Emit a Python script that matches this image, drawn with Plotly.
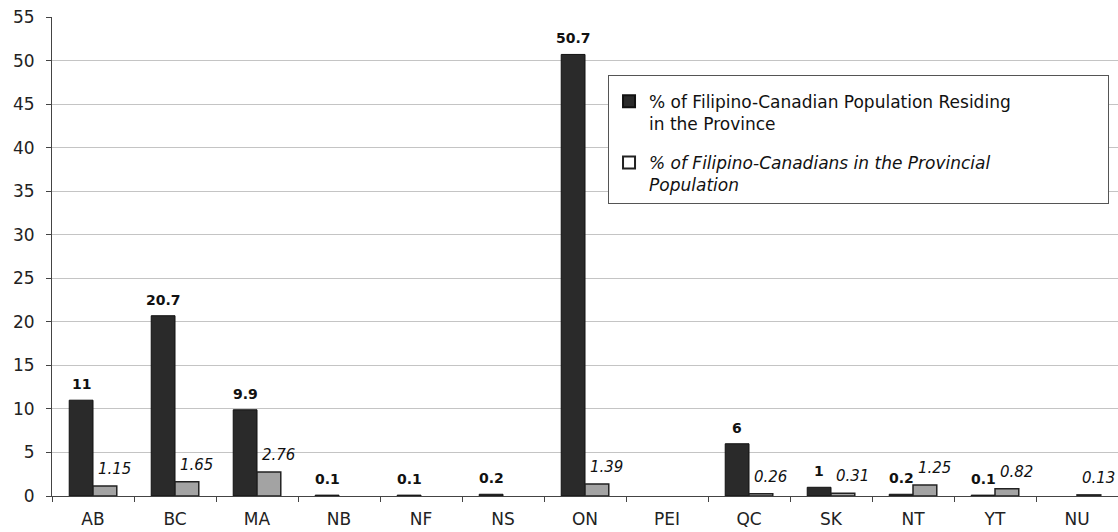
import plotly.graph_objects as go

categories = ["AB", "BC", "MA", "NB", "NF", "NS", "ON", "PEI", "QC", "SK", "NT", "YT", "NU"]
residing_pct = [11, 20.7, 9.9, 0.1, 0.1, 0.2, 50.7, None, 6, 1, 0.2, 0.1, None]
provincial_pct = [1.15, 1.65, 2.76, None, None, None, 1.39, None, 0.26, 0.31, 1.25, 0.82, 0.13]
y_ticks = list(range(0, 56, 5))

PAD = "&nbsp;" * 17  # widen the legend box like the original
name1 = "% of Filipino-Canadian Population Residing" + PAD + "<br>in the Province"
name2 = "<i>% of Filipino-Canadians in the Provincial<br>Population</i>"

FONT = "DejaVu Sans"

fig = go.Figure()
fig.add_trace(go.Bar(
    x=categories, y=residing_pct, name=name1, legendgroup="g1",
    marker=dict(color="#2a2a2a", line=dict(color="#111111", width=1)),
    showlegend=True, legendrank=1,
))
fig.add_trace(go.Bar(
    x=categories, y=provincial_pct, name=name2, legendgroup="g2",
    marker=dict(color="#a3a3a3", line=dict(color="#222222", width=1.5)),
    showlegend=False,
))
# legend proxy (hollow square as in the original legend)
fig.add_trace(go.Scatter(
    x=[None], y=[None], mode="markers", name=name2, legendgroup="g2",
    marker=dict(symbol="square", size=11, color="white", line=dict(color="#222222", width=1.5)),
    showlegend=True, legendrank=2,
))

# value labels
for c, v in zip(categories, residing_pct):
    if v is None:
        continue
    fig.add_annotation(x=c, y=v, xref="x", yref="y", text=f"{v:g}", showarrow=False,
                       xanchor="center", yanchor="bottom", xshift=-12, yshift=6,
                       font=dict(family=FONT, size=14, color="#111111", weight="bold"))
for c, v in zip(categories, provincial_pct):
    if v is None:
        continue
    fig.add_annotation(x=c, y=v, xref="x", yref="y", text=f"<i>{v:g}</i>", showarrow=False,
                       xanchor="center", yanchor="bottom", xshift=21, yshift=6,
                       font=dict(family=FONT, size=15, color="#111111"))

fig.update_layout(
    width=1118, height=532,
    margin=dict(l=52, r=0, t=17, b=36, autoexpand=False),
    paper_bgcolor="white", plot_bgcolor="white",
    barmode="group", bargap=0.42, bargroupgap=0,
    font=dict(family=FONT, size=16, color="#222222"),
    legend=dict(
        x=0.5216, y=0.879, xanchor="left", yanchor="top",
        orientation="v", valign="top", tracegroupgap=14,
        bordercolor="#555555", borderwidth=1, bgcolor="white",
        font=dict(family=FONT, size=17, color="#111111"),
        title=dict(text=" ", side="top", font=dict(size=6)),
        itemsizing="constant",
    ),
)
fig.update_xaxes(
    showgrid=False, showline=True, linecolor="#444444", linewidth=1,
    ticks="outside", tickson="boundaries", ticklen=5, tickcolor="#444444",
    tickfont=dict(family=FONT, size=17, color="#222222"),
    ticklabelstandoff=8,
)
fig.update_yaxes(
    range=[0, 55], tickvals=y_ticks,
    showgrid=True, gridcolor="#c4c4c4", gridwidth=1,
    showline=True, linecolor="#444444", linewidth=1,
    ticks="outside", ticklen=5, tickcolor="#444444",
    tickfont=dict(family=FONT, size=17, color="#222222"),
    ticklabelstandoff=8, zeroline=False,
)

fig.write_html("out.html")
